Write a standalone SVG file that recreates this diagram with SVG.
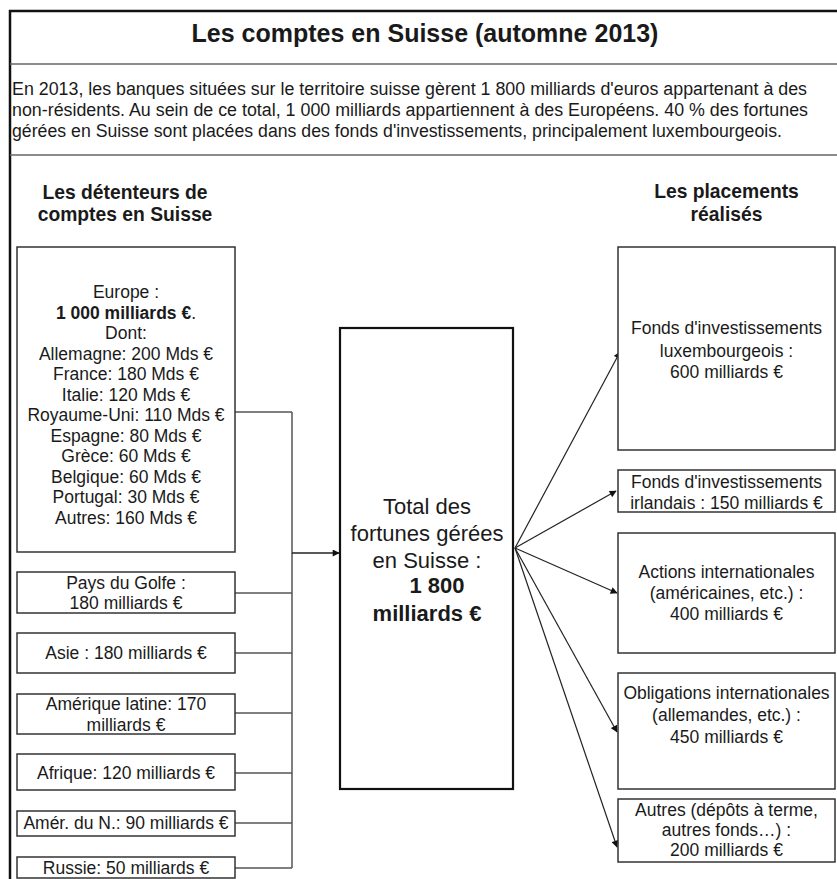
<svg xmlns="http://www.w3.org/2000/svg" width="837" height="879" viewBox="0 0 837 879">
<style>
text{font-family:"Liberation Sans",Arial,Helvetica,sans-serif;fill:#1a1a1a}
.t{font-size:25px;font-weight:bold;text-anchor:middle}
.p{font-size:17.6px}
.h{font-size:19.3px;font-weight:bold;text-anchor:middle}
.b{font-size:17.5px;text-anchor:middle}
.c{font-size:22px;text-anchor:middle}
.bold{font-weight:bold}
.box{fill:#fff;stroke:#333;stroke-width:1.5}
.main{fill:#fff;stroke:#111;stroke-width:2.2}
.con{fill:none;stroke:#555;stroke-width:1.5}
.arr{fill:none;stroke:#222;stroke-width:1.2}
.frame{stroke:#111;stroke-width:2.5;fill:none}
.div{stroke:#666;stroke-width:1.5}
</style>
<defs>
<marker id="ah" viewBox="0 0 10 10" refX="9" refY="5" markerWidth="8" markerHeight="7" markerUnits="userSpaceOnUse" orient="auto">
<path d="M0,0 L10,5 L0,10 z" fill="#111"/>
</marker>
</defs>
<rect width="837" height="879" fill="#fff"/>
<g id="frame">
<path class="frame" d="M10,879 L10,11 L837,11"/>
<line class="div" x1="10" y1="64" x2="837" y2="64"/>
<line class="div" x1="10" y1="155" x2="837" y2="155"/>
</g>
<g id="title"><text class="t" x="425" y="42">Les comptes en Suisse (automne 2013)</text></g>
<g id="intro">
<text class="p" x="12" y="95" textLength="795" lengthAdjust="spacingAndGlyphs">En 2013, les banques situées sur le territoire suisse gèrent 1 800 milliards d'euros appartenant à des</text>
<text class="p" x="12" y="116" textLength="796" lengthAdjust="spacingAndGlyphs">non-résidents. Au sein de ce total, 1 000 milliards appartiennent à des Européens. 40 % des fortunes</text>
<text class="p" x="12" y="137" textLength="770" lengthAdjust="spacingAndGlyphs">gérées en Suisse sont placées dans des fonds d'investissements, principalement luxembourgeois.</text>
</g>
<g id="header-left"><text class="h" x="125" y="199">Les détenteurs de</text><text class="h" x="125" y="221">comptes en Suisse</text></g>
<g id="header-right"><text class="h" x="726.5" y="198">Les placements</text><text class="h" x="726.5" y="221">réalisés</text></g>

<g id="connectors">
<path class="con" d="M235,412 H292 M235,593 H292 M235,653 H292 M235,713 H292 M235,773 H292 M235,823 H292 M235,868 H292 M292,412 V868"/>
<line x1="292" y1="553" x2="339" y2="553" stroke="#222" stroke-width="1.6" marker-end="url(#ah)"/>
<line class="arr" x1="515" y1="548" x2="620" y2="352" marker-end="url(#ah)"/>
<line class="arr" x1="515" y1="548" x2="616" y2="491" marker-end="url(#ah)"/>
<line class="arr" x1="515" y1="548" x2="617" y2="593" marker-end="url(#ah)"/>
<line class="arr" x1="515" y1="548" x2="617" y2="732" marker-end="url(#ah)"/>
<line class="arr" x1="515" y1="548" x2="617" y2="847" marker-end="url(#ah)"/>
</g>

<g id="europe">
<rect class="box" x="17" y="247" width="218" height="305"/>
<text class="b" x="126" y="298">Europe :</text>
<text class="b" x="126" y="318.5"><tspan class="bold">1 000 milliards €</tspan>.</text>
<text class="b" x="126" y="339">Dont:</text>
<text class="b" x="126" y="359.5">Allemagne: 200 Mds €</text>
<text class="b" x="126" y="380">France: 180 Mds €</text>
<text class="b" x="126" y="400.5">Italie: 120 Mds €</text>
<text class="b" x="126" y="421">Royaume-Uni: 110 Mds €</text>
<text class="b" x="126" y="441.5">Espagne: 80 Mds €</text>
<text class="b" x="126" y="462">Grèce: 60 Mds €</text>
<text class="b" x="126" y="482.5">Belgique: 60 Mds €</text>
<text class="b" x="126" y="503">Portugal: 30 Mds €</text>
<text class="b" x="126" y="523.5">Autres: 160 Mds €</text>
</g>
<g id="golfe"><rect class="box" x="17" y="572" width="218" height="41"/><text class="b" x="126" y="589">Pays du Golfe :</text><text class="b" x="126" y="609">180 milliards €</text></g>
<g id="asie"><rect class="box" x="17" y="633" width="218" height="40"/><text class="b" x="126" y="659">Asie : 180 milliards €</text></g>
<g id="amlat"><rect class="box" x="17" y="694" width="218" height="40"/><text class="b" x="126" y="710">Amérique latine: 170</text><text class="b" x="126" y="731">milliards €</text></g>
<g id="afrique"><rect class="box" x="17" y="754" width="218" height="36"/><text class="b" x="126" y="779">Afrique: 120 milliards €</text></g>
<g id="amnord"><rect class="box" x="17" y="811" width="218" height="25"/><text class="b" x="126" y="829">Amér. du N.: 90 milliards €</text></g>
<g id="russie"><rect class="box" x="17" y="857" width="218" height="21"/><text class="b" x="126" y="874">Russie: 50 milliards €</text></g>

<g id="total">
<rect class="main" x="340" y="328" width="173" height="461"/>
<text class="c" x="427" y="514">Total des</text>
<text class="c" x="427" y="541">fortunes gérées</text>
<text class="c" x="427" y="568">en Suisse :</text>
<text class="c bold" x="437" y="593">1 800</text>
<text class="c bold" x="427" y="621">milliards €</text>
</g>

<g id="lux"><rect class="box" x="618" y="247" width="217" height="203"/><text class="b" x="726.5" y="334">Fonds d'investissements</text><text class="b" x="726.5" y="357">luxembourgeois :</text><text class="b" x="726.5" y="378">600 milliards €</text></g>
<g id="irl"><rect class="box" x="618" y="470" width="217" height="42"/><text class="b" x="726.5" y="488">Fonds d'investissements</text><text class="b" x="726.5" y="509">irlandais : 150 milliards €</text></g>
<g id="actions"><rect class="box" x="618" y="533" width="217" height="120"/><text class="b" x="726.5" y="578">Actions internationales</text><text class="b" x="726.5" y="599">(américaines, etc.) :</text><text class="b" x="726.5" y="620">400 milliards €</text></g>
<g id="obligations"><rect class="box" x="618" y="673" width="217" height="116"/><text class="b" x="726.5" y="699">Obligations internationales</text><text class="b" x="726.5" y="721">(allemandes, etc.) :</text><text class="b" x="726.5" y="743">450 milliards €</text></g>
<g id="autres"><rect class="box" x="618" y="799" width="217" height="63"/><text class="b" x="726.5" y="816">Autres (dépôts à terme,</text><text class="b" x="726.5" y="836">autres fonds…) :</text><text class="b" x="726.5" y="856">200 milliards €</text></g>
</svg>
